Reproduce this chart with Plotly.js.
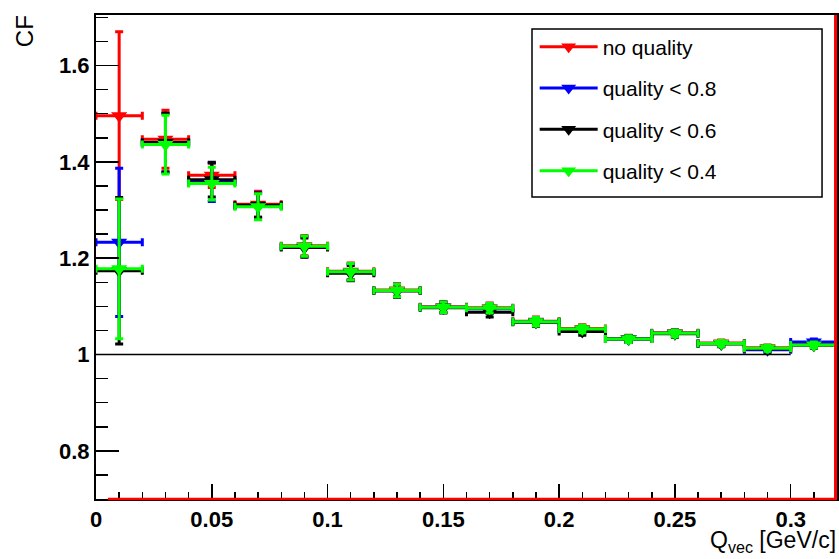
<!DOCTYPE html>
<html>
<head>
<meta charset="utf-8">
<script src="https://cdn.plot.ly/plotly-3.0.1.min.js"></script>
<style>
  html, body { margin: 0; padding: 0; background: #ffffff; }
  #cf { width: 839px; height: 559px; }
</style>
</head>
<body>
<div id="cf"></div>
<script>
// Bin centres of the Q_vec histogram (GeV/c), bin width 0.02
var qBins = [0.01, 0.03, 0.05, 0.07, 0.09, 0.11, 0.13, 0.15,
             0.17, 0.19, 0.21, 0.23, 0.25, 0.27, 0.29, 0.31];
var binHalfWidth = 0.01;

// Correlation function per quality cut, with statistical errors
var cfNoQuality  = [1.496, 1.447, 1.372, 1.312, 1.226, 1.173, 1.134, 1.099,
                    1.097, 1.069, 1.054, 1.033, 1.045, 1.024, 1.014, 1.021];
var errNoQuality = [0.174, 0.060, 0.025, 0.027, 0.021, 0.017, 0.013, 0.011,
                    0.010, 0.009, 0.008, 0.007, 0.007, 0.006, 0.006, 0.006];

var cfQual08  = [1.233, 1.440, 1.358, 1.309, 1.224, 1.171, 1.133, 1.098,
                 1.095, 1.068, 1.052, 1.032, 1.044, 1.023, 1.010, 1.026];
var errQual08 = [0.154, 0.061, 0.040, 0.027, 0.021, 0.017, 0.013, 0.011,
                 0.010, 0.009, 0.008, 0.007, 0.007, 0.006, 0.006, 0.006];

var cfQual06  = [1.174, 1.440, 1.363, 1.310, 1.222, 1.169, 1.132, 1.097,
                 1.088, 1.067, 1.048, 1.032, 1.043, 1.022, 1.012, 1.019];
var errQual06 = [0.152, 0.061, 0.036, 0.025, 0.020, 0.016, 0.013, 0.011,
                 0.010, 0.009, 0.008, 0.007, 0.007, 0.006, 0.006, 0.006];

var cfQual04  = [1.178, 1.436, 1.355, 1.307, 1.225, 1.172, 1.133, 1.098,
                 1.096, 1.068, 1.053, 1.032, 1.044, 1.023, 1.013, 1.020];
var errQual04 = [0.145, 0.061, 0.034, 0.027, 0.021, 0.017, 0.013, 0.011,
                 0.010, 0.009, 0.008, 0.007, 0.007, 0.006, 0.006, 0.006];

var seriesNames  = ['no quality', 'quality < 0.8', 'quality < 0.6', 'quality < 0.4'];
var seriesColors = ['#ff0000', '#0000ff', '#000000', '#00ff00'];
var seriesValues = [cfNoQuality, cfQual08, cfQual06, cfQual04];
var seriesErrors = [errNoQuality, errQual08, errQual06, errQual04];

// Unit reference line CF = 1
var unityLineX = [0, 0.3];
var unityLineY = 1;

var FONT = 'Liberation Sans, Arial, Helvetica, sans-serif';

var traces = [];
// histogram points with bin-width and statistical error bars
seriesValues.forEach(function (vals, i) {
  traces.push({
    type: 'scatter',
    mode: 'markers',
    x: qBins,
    y: vals,
    showlegend: false,
    hoverinfo: 'skip',
    marker: { symbol: 'triangle-down', size: 14, color: seriesColors[i],
              line: { width: 0 } },
    error_x: { type: 'constant', value: binHalfWidth, color: seriesColors[i],
               thickness: 3, width: 4 },
    error_y: { type: 'data', array: seriesErrors[i], color: seriesColors[i],
               thickness: 3, width: 4 }
  });
});
// legend entries (line + marker symbol)
seriesNames.forEach(function (name, i) {
  traces.push({
    type: 'scatter',
    mode: 'lines+markers',
    x: [null],
    y: [null],
    name: name,
    legendgroup: 'g' + i,
    hoverinfo: 'skip',
    line: { color: seriesColors[i], width: 3 },
    marker: { symbol: 'triangle-down', size: 13, color: seriesColors[i] }
  });
});

var tickFont = { family: FONT, size: 22, weight: 'bold', color: '#000000' };

var layout = {
  width: 839,
  height: 559,
  margin: { l: 96, r: 2, t: 15, b: 60, pad: 0 },
  paper_bgcolor: '#ffffff',
  plot_bgcolor: '#ffffff',
  showlegend: true,
  xaxis: {
    range: [0, 0.32],
    tick0: 0, dtick: 0.05,
    ticks: 'inside', ticklen: 15, tickwidth: 1.5, tickcolor: '#000000',
    minor: { dtick: 0.01, ticks: 'inside', ticklen: 7, tickwidth: 1.5, tickcolor: '#000000' },
    showline: true, linecolor: '#000000', linewidth: 2, mirror: true,
    showgrid: false, zeroline: false,
    tickfont: tickFont
  },
  yaxis: {
    range: [0.7, 1.705],
    tick0: 0, dtick: 0.2,
    ticks: 'inside', ticklen: 23, tickwidth: 1.5, tickcolor: '#000000',
    minor: { dtick: 0.05, ticks: 'inside', ticklen: 12, tickwidth: 1.5, tickcolor: '#000000' },
    showline: true, linecolor: '#000000', linewidth: 2, mirror: true,
    showgrid: false, zeroline: false,
    tickfont: tickFont
  },
  legend: {
    x: 0.592, xanchor: 'left',
    y: 0.976, yanchor: 'top',
    bgcolor: 'rgba(0,0,0,0)',
    borderwidth: 0,
    traceorder: 'grouped',
    tracegroupgap: 11,
    itemwidth: 58,
    font: { family: FONT, size: 21, color: '#000000' }
  },
  shapes: [
    { type: 'line', xref: 'x', yref: 'y',
      x0: unityLineX[0], x1: unityLineX[1], y0: unityLineY, y1: unityLineY,
      line: { color: '#000000', width: 1.5 } },
    // red histogram frame along the bottom and right edges
    { type: 'line', xref: 'paper', yref: 'paper', x0: 0.016, x1: 1, y0: 0, y1: 0,
      line: { color: '#ff0000', width: 2.5 } },
    { type: 'line', xref: 'paper', yref: 'paper', x0: 0.998, x1: 0.998, y0: 0, y1: 1,
      line: { color: '#ff0000', width: 3 } },
    // legend frame
    { type: 'rect', xref: 'paper', yref: 'paper', layer: 'above',
      x0: 0.5884, x1: 0.9798, y0: 0.624, y1: 0.9711,
      line: { color: '#000000', width: 1.5 }, fillcolor: 'rgba(255,255,255,0)' }
  ],
  annotations: [
    { text: 'CF', xref: 'paper', yref: 'paper', x: -0.097, y: 1.004,
      xanchor: 'center', yanchor: 'top', textangle: -90, showarrow: false,
      font: { family: FONT, size: 24, color: '#000000' } },
    { text: 'Q<sub>vec</sub> [GeV/c]', xref: 'paper', yref: 'paper', x: 1, y: -0.056,
      xanchor: 'right', yanchor: 'top', showarrow: false, borderpad: 0,
      font: { family: FONT, size: 23, color: '#000000' } }
  ]
};

Plotly.newPlot('cf', traces, layout, { displayModeBar: false, staticPlot: true });
</script>
</body>
</html>
